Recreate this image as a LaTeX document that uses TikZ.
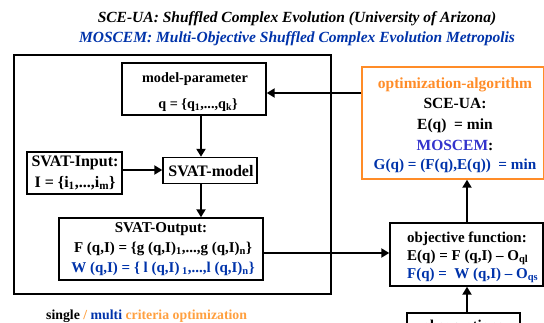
\documentclass[tikz,border=0pt]{standalone}
\usepackage{fontspec}
\setmainfont{Liberation Serif}
\usetikzlibrary{arrows.meta}
\definecolor{mblue}{RGB}{0,51,170}
\definecolor{mviolet}{RGB}{51,51,204}
\definecolor{morange}{RGB}{255,140,40}
\definecolor{lorange}{RGB}{255,160,64}
\newcommand{\fs}[1]{\fontsize{#1}{#1}\selectfont}
\begin{document}
\begin{tikzpicture}[x=1pt,y=-1pt,
  box/.style={draw,line width=1.4pt,inner sep=0pt},
  txt/.style={inner sep=0pt,anchor=base,font=\fs{15}\bfseries},
  flow/.style={line width=2.4pt,-{Triangle[length=8pt,width=9pt]}}]
\useasboundingbox (0,0) rectangle (544,322);

% headline
\node[txt,font=\fs{15.5}\bfseries\itshape] (t1) at (297,22)
  {SCE-UA: Shuffled Complex Evolution (University of Arizona)};
\node[txt,font=\fs{15.5}\bfseries\itshape,text=mblue] (t2) at (297,42)
  {MOSCEM: Multi-Objective Shuffled Complex Evolution Metropolis};

% model frame
\node[box,minimum width=317pt,minimum height=239pt] (frame) at (172.5,174.5) {};

% model-parameter
\node[box,minimum width=144pt,minimum height=52pt] (mp) at (194,89) {};
\node[txt,font=\fs{14.2}\bfseries] (mpa) at (195,82) {model-parameter};
\node[txt,font=\fs{14.2}\bfseries] (mpb) at (198,108) {q = \{q\textsubscript{1},...,q\textsubscript{k}\}};

% SVAT input
\node[box,minimum width=95pt,minimum height=42pt] (si) at (74.5,173) {};
\node[txt,font=\fs{16}\bfseries] (sia) at (75,166) {SVAT-Input:};
\node[txt,font=\fs{16}\bfseries] (sib) at (75,187) {I = \{i\textsubscript{1},...,i\textsubscript{m}\}};

% SVAT model
\node[box,minimum width=94pt,minimum height=26pt] (sm) at (210,170.5) {};
\node[txt,font=\fs{16}\bfseries] (sma) at (211,176) {SVAT-model};

% SVAT output
\node[box,minimum width=204pt,minimum height=62pt] (so) at (161,249) {};
\node[txt] (soa) at (161,232) {SVAT-Output:};
\node[txt] (sob) at (163,252) {F (q,I) = \{g (q,I)\textsubscript{1},...,g (q,I)\textsubscript{n}\}};
\node[txt,text=mblue] (soc) at (163,272) {W (q,I) = \{ l (q,I)\textsubscript{ 1},...,l (q,I)\textsubscript{n}\}};

% optimization algorithm
\node[draw=morange,line width=1.4pt,inner sep=0pt,minimum width=182pt,minimum height=112pt] (oa) at (453,123) {};
\node[txt,font=\fs{15.5}\bfseries,text=morange] (oaa) at (455,88) {optimization-algorithm};
\node[txt,font=\fs{15.5}\bfseries] (oab) at (455,108) {SCE-UA:};
\node[txt,font=\fs{15.5}\bfseries] (oac) at (455,129) {E(q)\ \ = min};
\node[txt,font=\fs{15.5}\bfseries] (oad) at (455,150) {\textcolor{mviolet}{MOSCEM}:};
\node[txt,font=\fs{15.2}\bfseries,text=mblue] (oae) at (455,169) {G(q) = (F(q),E(q))\ \ = min};

% objective function
\node[box,minimum width=153pt,minimum height=63pt] (of) at (466.5,254.5) {};
\node[txt,anchor=base west] (ofa) at (407,242) {objective function:};
\node[txt,anchor=base west] (ofb) at (407,260) {E(q) = F (q,I) -- O\textsubscript{ql}};
\node[txt,anchor=base west,text=mblue] (ofc) at (407,278) {F(q) =\ \ W (q,I) -- O\textsubscript{qs}};

% observations
\node[box,minimum width=113pt,minimum height=34pt] (ob) at (463.5,330) {};
\node[txt] (oba) at (463,330) {observations};

% caption
\node[txt,anchor=base west,font=\fs{13.8}\bfseries] (cap) at (46,319)
  {single \textcolor{lorange}{/} \textcolor{mblue}{multi} \textcolor{lorange}{criteria optimization}};

% connectors
\coordinate (vx) at (201,0);
\coordinate (ux) at (467,0);
\draw[flow] (oa.west |- 0,93) -- (mp.east |- 0,93);
\draw[flow] (mp.south -| vx) -- (sm.north -| vx);
\draw[flow] (si.east |- 0,170) -- (sm.west |- 0,170);
\draw[flow] (sm.south -| vx) -- (so.north -| vx);
\draw[flow] (so.east |- 0,253) -- (of.west |- 0,253);
\draw[flow] (of.north -| ux) -- (oa.south -| ux);
\draw[flow] (ob.north -| ux) -- (of.south -| ux);
\end{tikzpicture}
\end{document}
